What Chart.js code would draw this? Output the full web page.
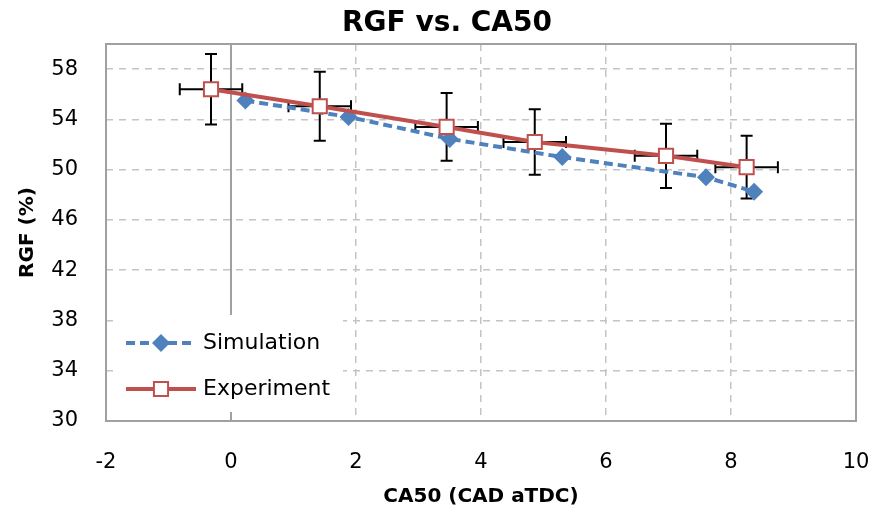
<!DOCTYPE html>
<html>
<head>
<meta charset="utf-8">
<script src="https://cdn.jsdelivr.net/npm/chart.js@4.4.1/dist/chart.umd.min.js"></script>
<style>
  html, body { margin: 0; padding: 0; background: #fff; }
  #wrap { width: 876px; height: 512px; }
</style>
</head>
<body>
<div id="wrap"><canvas id="c" width="876" height="512"></canvas></div>
<script>
// ---- data ----
const titleText = 'RGF vs. CA50';
const xTitle = 'CA50 (CAD aTDC)';
const yTitle = 'RGF (%)';
const seriesNames = ['Simulation', 'Experiment'];

const simX = [0.23, 1.88, 3.5, 5.3, 7.6, 8.37];
const simY = [55.5, 54.2, 52.45, 51.0, 49.4, 48.25];

const expX = [-0.32, 1.42, 3.45, 4.86, 6.96, 8.25];
const expY = [56.4, 55.05, 53.4, 52.2, 51.1, 50.2];
const expYErr = [2.8, 2.75, 2.7, 2.6, 2.55, 2.5];
const expXErr = [0.5, 0.5, 0.5, 0.5, 0.5, 0.5];

const xTicks = [-2, 0, 2, 4, 6, 8, 10];
const yTicks = [30, 34, 38, 42, 46, 50, 54, 58];

const FONT = '"DejaVu Sans", sans-serif';
const BLUE = '#4F81BD';
const RED = '#C0504D';

const pts = (xs, ys) => xs.map((x, i) => ({x: x, y: ys[i]}));

// shift the title block so it is centred like the reference
const titleShift = {
  id: 'titleShift',
  afterLayout(chart) {
    if (chart.titleBlock) { chart.titleBlock.left += 38; }
  }
};

// error bars drawn through the chart's scales
const errorBars = {
  id: 'errorBars',
  beforeDatasetsDraw(chart) {
    const {ctx, scales: {x, y}} = chart;
    ctx.save();
    ctx.strokeStyle = '#000';
    ctx.lineWidth = 2;
    const cap = 6;
    expX.forEach((xv, i) => {
      const px = x.getPixelForValue(xv);
      const py = y.getPixelForValue(expY[i]);
      const yt = y.getPixelForValue(expY[i] + expYErr[i]);
      const yb = y.getPixelForValue(expY[i] - expYErr[i]);
      const xl = x.getPixelForValue(xv - expXErr[i]);
      const xr = x.getPixelForValue(xv + expXErr[i]);
      ctx.beginPath();
      ctx.moveTo(px, yt); ctx.lineTo(px, yb);
      ctx.moveTo(px - cap, yt); ctx.lineTo(px + cap, yt);
      ctx.moveTo(px - cap, yb); ctx.lineTo(px + cap, yb);
      ctx.moveTo(xl, py); ctx.lineTo(xr, py);
      ctx.moveTo(xl, py - cap); ctx.lineTo(xl, py + cap);
      ctx.moveTo(xr, py - cap); ctx.lineTo(xr, py + cap);
      ctx.stroke();
    });
    ctx.restore();
  }
};

// plot border + vertical axis at x = 0
const frame = {
  id: 'frame',
  beforeDatasetsDraw(chart) {
    const {ctx, chartArea: a, scales: {x}} = chart;
    ctx.save();
    ctx.strokeStyle = '#a0a0a0';
    ctx.lineWidth = 2;
    const x0 = x.getPixelForValue(0);
    ctx.beginPath();
    ctx.moveTo(x0, a.top); ctx.lineTo(x0, a.bottom);
    ctx.stroke();
    ctx.strokeRect(a.left, a.top, a.right - a.left, a.bottom - a.top);
    ctx.restore();
  }
};

function drawMarker(ctx, style, r, x, y) {
  if (style === 'rectRot') {
    ctx.moveTo(x, y - r); ctx.lineTo(x + r, y); ctx.lineTo(x, y + r); ctx.lineTo(x - r, y); ctx.closePath();
  } else {
    const s = r * Math.SQRT1_2;
    ctx.rect(x - s, y - s, 2 * s, 2 * s);
  }
}

// legend inside the plot area, lower left
const innerLegend = {
  id: 'innerLegend',
  afterDatasetsDraw(chart) {
    const {ctx, chartArea: a} = chart;
    ctx.save();
    const bx = a.left + 12, by = a.bottom - 106, bw = 225, bh = 97;
    ctx.fillStyle = '#fff';
    ctx.fillRect(bx, by, bw, bh);
    const rows = [by + 28, by + 74];
    chart.data.datasets.forEach((ds, i) => {
      const yy = rows[i];
      const x1 = a.left + 20, x2 = a.left + 90;
      ctx.strokeStyle = ds.borderColor;
      ctx.lineWidth = ds.borderWidth;
      ctx.setLineDash(ds.borderDash || []);
      ctx.beginPath();
      ctx.moveTo(x1, yy); ctx.lineTo(x2, yy);
      ctx.stroke();
      ctx.setLineDash([]);
      ctx.fillStyle = ds.pointBackgroundColor;
      ctx.strokeStyle = ds.pointBorderColor;
      ctx.lineWidth = ds.pointBorderWidth;
      ctx.beginPath();
      drawMarker(ctx, ds.pointStyle, ds.pointRadius, (x1 + x2) / 2, yy);
      ctx.fill();
      if (ds.pointBorderWidth) ctx.stroke();
      ctx.fillStyle = '#000';
      ctx.font = '22px ' + FONT;
      ctx.textBaseline = 'middle';
      ctx.textAlign = 'left';
      ctx.fillText(ds.label, x2 + 7, yy);
    });
    ctx.restore();
  }
};

new Chart(document.getElementById('c'), {
  type: 'scatter',
  data: {
    datasets: [
      {
        label: seriesNames[0],
        data: pts(simX, simY),
        showLine: true,
        borderColor: BLUE,
        backgroundColor: BLUE,
        borderWidth: 4,
        borderDash: [9, 5],
        pointStyle: 'rectRot',
        pointRadius: 9,
        pointHoverRadius: 9,
        pointBackgroundColor: BLUE,
        pointBorderColor: BLUE,
        pointBorderWidth: 0,
        order: 2
      },
      {
        label: seriesNames[1],
        data: pts(expX, expY),
        showLine: true,
        borderColor: RED,
        backgroundColor: RED,
        borderWidth: 4,
        pointStyle: 'rect',
        pointRadius: 10,
        pointHoverRadius: 10,
        pointBackgroundColor: '#fff',
        pointBorderColor: RED,
        pointBorderWidth: 2,
        order: 1
      }
    ]
  },
  options: {
    responsive: false,
    animation: false,
    devicePixelRatio: 1,
    layout: { padding: { left: 0, right: 20, top: 0, bottom: 0 } },
    plugins: {
      legend: { display: false },
      tooltip: { enabled: false },
      title: {
        display: true,
        text: titleText,
        color: '#000',
        font: { family: FONT, size: 28, weight: 'bold' },
        padding: { top: 7, bottom: 3.4 }
      }
    },
    scales: {
      x: {
        type: 'linear',
        min: xTicks[0],
        max: xTicks[xTicks.length - 1],
        afterBuildTicks(s) { s.ticks = xTicks.map(v => ({value: v})); },
        afterFit(s) { s.height = 91; },
        ticks: {
          color: '#000',
          font: { family: FONT, size: 21 },
          padding: 3,
          maxRotation: 0
        },
        grid: {
          drawTicks: true,
          tickLength: 26,
          tickColor: 'rgba(0,0,0,0)',
          lineWidth: 1.5,
          color: (c) => (c.tick && (c.tick.value === 0 || c.tick.value === -2 || c.tick.value === 10)) ? 'rgba(0,0,0,0)' : '#c4c4c4'
        },
        border: { display: false, dash: [7, 6] },
        title: {
          display: true,
          text: xTitle,
          color: '#000',
          font: { family: FONT, size: 20, weight: 'bold' },
          padding: { top: 0, bottom: 3 }
        }
      },
      y: {
        type: 'linear',
        min: 30,
        max: 60,
        afterBuildTicks(s) { s.ticks = yTicks.map(v => ({value: v})); },
        afterFit(s) { s.width = 106; },
        ticks: {
          color: '#000',
          font: { family: FONT, size: 21 },
          padding: 3
        },
        grid: {
          drawTicks: true,
          tickLength: 25,
          tickColor: 'rgba(0,0,0,0)',
          lineWidth: 1.5,
          color: (c) => (c.tick && c.tick.value === 30) ? 'rgba(0,0,0,0)' : '#c4c4c4'
        },
        border: { display: false, dash: [7, 6] },
        title: {
          display: true,
          text: yTitle,
          color: '#000',
          font: { family: FONT, size: 20, weight: 'bold' },
          padding: { top: 16, bottom: 0 }
        }
      }
    }
  },
  plugins: [titleShift, frame, errorBars, innerLegend]
});
</script>
</body>
</html>
